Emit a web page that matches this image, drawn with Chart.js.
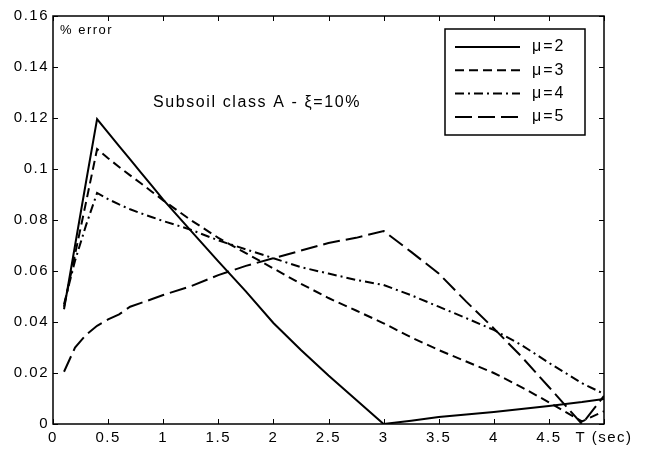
<!DOCTYPE html>
<html>
<head>
<meta charset="utf-8">
<script src="https://cdn.jsdelivr.net/npm/chart.js@4/dist/chart.umd.min.js"></script>
<style>
  html, body { margin: 0; background: #fff; }
</style>
</head>
<body>
<canvas id="chart" width="656" height="450"></canvas>
<script>
// Period values (sec) shared by all curves
const T = [0.1, 0.2, 0.3, 0.4, 0.5, 0.6, 0.7, 0.8, 0.9, 1.0, 1.25, 1.5, 1.75, 2.0, 2.25, 2.5, 2.75, 3.0, 3.25, 3.5, 3.75, 4.0, 4.25, 4.5, 4.8, 5.0];

// % error for each ductility mu
const mu2 = [0.045, 0.07, 0.095, 0.1196, 0.1143, 0.109, 0.1038, 0.0985, 0.0933, 0.088, 0.0758, 0.0638, 0.052, 0.0396, 0.029, 0.019, 0.0095, 0.0, 0.0013, 0.0027, 0.0037, 0.0047, 0.0059, 0.0071, 0.0086, 0.0098];
const mu3 = [0.046, 0.0665, 0.087, 0.1078, 0.1042, 0.1008, 0.0975, 0.0943, 0.091, 0.0877, 0.08, 0.073, 0.067, 0.061, 0.055, 0.0494, 0.0445, 0.0395, 0.034, 0.029, 0.0245, 0.02, 0.0145, 0.0085, 0.001, 0.005];
const mu4 = [0.047, 0.064, 0.078, 0.0906, 0.0882, 0.0861, 0.0842, 0.0826, 0.0811, 0.0796, 0.0762, 0.072, 0.0685, 0.065, 0.0615, 0.059, 0.0565, 0.0545, 0.0505, 0.046, 0.0415, 0.0369, 0.031, 0.024, 0.016, 0.0118];
const mu5 = [0.0205, 0.03, 0.035, 0.0385, 0.041, 0.043, 0.046, 0.0475, 0.049, 0.0506, 0.054, 0.0584, 0.062, 0.065, 0.068, 0.071, 0.073, 0.0757, 0.0675, 0.059, 0.048, 0.0375, 0.0265, 0.0145, 0.0, 0.011];

const seriesLabels = ["\u03bc=2", "\u03bc=3", "\u03bc=4", "\u03bc=5"];

// Axis ticks
const xTickValues = [0, 0.5, 1, 1.5, 2, 2.5, 3, 3.5, 4, 4.5, 5];
const xTickLabels = ["0", "0.5", "1", "1.5", "2", "2.5", "3", "3.5", "4", "4.5", "T (sec)"];
const yTickValues = [0, 0.02, 0.04, 0.06, 0.08, 0.1, 0.12, 0.14, 0.16];
const yTickLabels = ["0", "0.02", "0.04", "0.06", "0.08", "0.1", "0.12", "0.14", "0.16"];

const titleText = "Subsoil class A - \u03be=10%";
const yAxisText = "% error";

const FONT = "'Liberation Sans', Arial, Helvetica, sans-serif";

function points(values) {
  return values.map((v, i) => ({ x: T[i], y: v }));
}

// Box, inward ticks, legend and in-plot text (MATLAB style)
const framePlugin = {
  id: "frame",
  beforeDraw(chart) {
    chart.ctx.letterSpacing = "1.5px";
  },
  afterDraw(chart) {
    const ctx = chart.ctx;
    const a = chart.chartArea;
    const xs = chart.scales.x;
    const ys = chart.scales.y;
    ctx.save();
    ctx.strokeStyle = "#000";
    ctx.lineWidth = 1.5;
    ctx.setLineDash([]);
    ctx.strokeRect(a.left, a.top, a.right - a.left, a.bottom - a.top);

    // inward ticks on all four sides
    ctx.lineWidth = 1;
    const tl = 5;
    ctx.beginPath();
    xTickValues.forEach((v) => {
      const px = Math.round(xs.getPixelForValue(v)) + 0.5;
      ctx.moveTo(px, a.bottom); ctx.lineTo(px, a.bottom - tl);
      ctx.moveTo(px, a.top); ctx.lineTo(px, a.top + tl);
    });
    yTickValues.forEach((v) => {
      const py = Math.round(ys.getPixelForValue(v)) + 0.5;
      ctx.moveTo(a.left, py); ctx.lineTo(a.left + tl, py);
      ctx.moveTo(a.right, py); ctx.lineTo(a.right - tl, py);
    });
    ctx.stroke();

    // texts inside the axes
    ctx.fillStyle = "#000";
    ctx.textBaseline = "middle";
    ctx.textAlign = "left";
    ctx.font = "13px " + FONT;
    ctx.letterSpacing = "1.5px";
    ctx.fillText(yAxisText, a.left + 7, a.top + 14);
    ctx.font = "16px " + FONT;
    ctx.letterSpacing = "1.6px";
    ctx.fillText(titleText, 153, 103);

    // legend
    const lx = 445, ly = 29, lw = 140, lh = 106;
    ctx.fillStyle = "#fff";
    ctx.fillRect(lx, ly, lw, lh);
    ctx.lineWidth = 1.5;
    ctx.strokeRect(lx, ly, lw, lh);
    ctx.font = "16px " + FONT;
    ctx.letterSpacing = "2px";
    chart.data.datasets.forEach((ds, i) => {
      const y = ly + 18 + i * 23.3;
      ctx.strokeStyle = "#000";
      ctx.lineWidth = ds.borderWidth;
      ctx.setLineDash(ds.borderDash || []);
      ctx.beginPath();
      ctx.moveTo(lx + 10, y);
      ctx.lineTo(lx + 75, y);
      ctx.stroke();
      ctx.setLineDash([]);
      ctx.fillStyle = "#000";
      ctx.fillText(ds.label, lx + 87, y);
    });
    ctx.restore();
  }
};

const ctx = document.getElementById("chart").getContext("2d");
new Chart(ctx, {
  type: "line",
  data: {
    datasets: [
      { label: seriesLabels[0], data: points(mu2), borderColor: "#000", borderWidth: 2, borderDash: [] },
      { label: seriesLabels[1], data: points(mu3), borderColor: "#000", borderWidth: 2, borderDash: [9, 5] },
      { label: seriesLabels[2], data: points(mu4), borderColor: "#000", borderWidth: 2, borderDash: [9, 4, 2, 4] },
      { label: seriesLabels[3], data: points(mu5), borderColor: "#000", borderWidth: 2, borderDash: [17, 6] }
    ]
  },
  options: {
    responsive: false,
    devicePixelRatio: 1,
    animation: false,
    layout: { padding: { top: 16, right: 52, left: 0, bottom: 0 } },
    elements: { point: { radius: 0 }, line: { tension: 0, fill: false } },
    plugins: { legend: { display: false }, tooltip: { enabled: false } },
    scales: {
      x: {
        type: "linear",
        min: 0,
        max: 5,
        grid: { display: false, drawTicks: false },
        border: { display: false },
        afterBuildTicks: (s) => { s.ticks = xTickValues.map((v) => ({ value: v })); },
        afterFit: (s) => { s.height = 26; },
        ticks: {
          autoSkip: false,
          maxRotation: 0,
          padding: 5,
          color: "#000",
          font: { family: FONT, size: 15 },
          callback: (v, i) => xTickLabels[i]
        }
      },
      y: {
        min: 0,
        max: 0.16,
        grid: { display: false, drawTicks: false },
        border: { display: false },
        afterBuildTicks: (s) => { s.ticks = yTickValues.map((v) => ({ value: v })); },
        afterFit: (s) => { s.width = 53; },
        ticks: {
          autoSkip: false,
          padding: 4,
          color: "#000",
          font: { family: FONT, size: 15 },
          callback: (v, i) => yTickLabels[i]
        }
      }
    }
  },
  plugins: [framePlugin]
});
</script>
</body>
</html>
